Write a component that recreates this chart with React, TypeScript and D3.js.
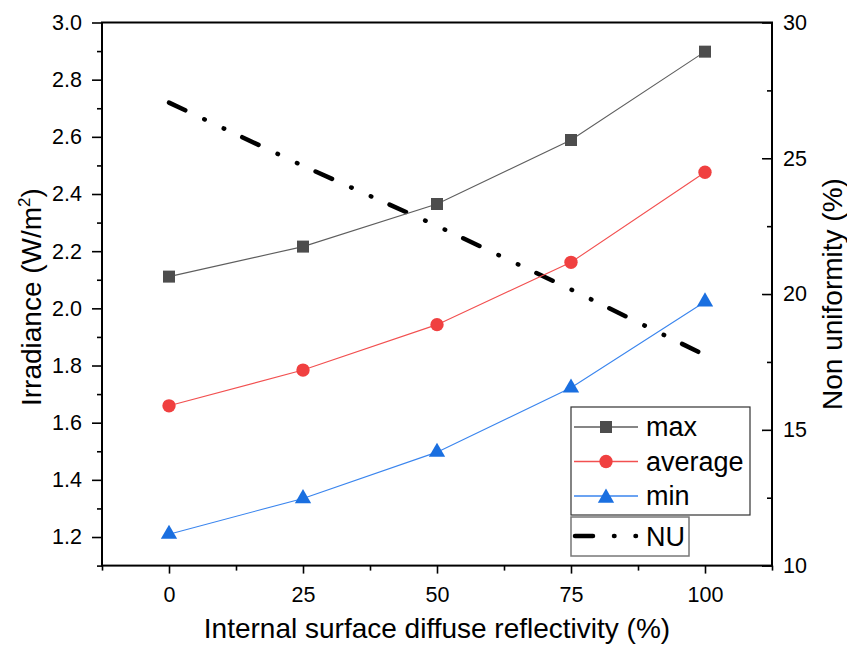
import React, { useRef, useEffect } from 'react';
import * as d3 from 'd3';

const reflectivity = [0, 25, 50, 75, 100];
const maxIrr = [2.111, 2.216, 2.365, 2.589, 2.898];
const avgIrr = [1.659, 1.784, 1.943, 2.161, 2.476];
const minIrr = [1.21, 1.335, 1.497, 1.722, 2.023];
const nonUniformity = [27.05, 24.72, 22.51, 20.17, 17.75];

const xTicks = [0, 25, 50, 75, 100];
const xMinor = [-12.5, 12.5, 37.5, 62.5, 87.5, 112.5];
const leftTicks = [1.2, 1.4, 1.6, 1.8, 2.0, 2.2, 2.4, 2.6, 2.8, 3.0];
const leftMinor = [1.1, 1.3, 1.5, 1.7, 1.9, 2.1, 2.3, 2.5, 2.7, 2.9];
const rightTicks = [10, 15, 20, 25, 30];
const rightMinor = [12.5, 17.5, 22.5, 27.5];

const W = 847;
const H = 650;
const M = { top: 22.5, right: 75, bottom: 84.4, left: 102 };
const FONT = '"Liberation Sans", Arial, sans-serif';
const NU_DASH = '18 21 0.5 21 0.5 20';

const series = [
  { name: 'max', values: maxIrr, line: '#5e5e5e', fill: '#4d4d4d', shape: 'square' },
  { name: 'average', values: avgIrr, line: '#f25050', fill: '#f04040', shape: 'circle' },
  { name: 'min', values: minIrr, line: '#3a85ee', fill: '#1a6fe0', shape: 'triangle' },
];

const symbolFor = (shape) => {
  if (shape === 'square') return d3.symbol(d3.symbolSquare, 144)();
  if (shape === 'circle') return d3.symbol(d3.symbolCircle, 140)();
  return d3.symbol(d3.symbolTriangle, 115)();
};

const App = () => {
  const svgRef = useRef(null);

  useEffect(() => {
    const svg = d3.select(svgRef.current);
    svg.selectAll('*').remove();

    const iw = W - M.left - M.right;
    const ih = H - M.top - M.bottom;

    const x = d3.scaleLinear().domain([-12.5, 112.5]).range([0, iw]);
    const yL = d3.scaleLinear().domain([1.1, 3.0]).range([ih, 0]);
    const yR = d3.scaleLinear().domain([10, 30]).range([ih, 0]);

    const g = svg.append('g').attr('transform', `translate(${M.left},${M.top})`);

    const styleAxis = (sel) => {
      sel.select('.domain').remove();
      sel.selectAll('line').attr('stroke', '#000').attr('stroke-width', 1.6);
      sel.selectAll('text').attr('font-family', FONT).attr('font-size', 21.5).attr('fill', '#000');
    };

    // bottom
    g.append('g').attr('transform', `translate(0,${ih})`)
      .call(d3.axisBottom(x).tickValues(xMinor).tickSize(5).tickFormat(() => '')).call(styleAxis);
    g.append('g').attr('transform', `translate(0,${ih})`)
      .call(d3.axisBottom(x).tickValues(xTicks).tickSize(8).tickPadding(13).tickFormat(d3.format('d'))).call(styleAxis);

    // left
    g.append('g').call(d3.axisLeft(yL).tickValues(leftMinor).tickSize(5).tickFormat(() => '')).call(styleAxis);
    g.append('g').call(d3.axisLeft(yL).tickValues(leftTicks).tickSize(10).tickPadding(10).tickFormat(d3.format('.1f'))).call(styleAxis);

    // right (ticks inward)
    g.append('g').attr('transform', `translate(${iw},0)`)
      .call(d3.axisRight(yR).tickValues(rightMinor).tickSize(-5).tickFormat(() => '')).call(styleAxis);
    g.append('g').attr('transform', `translate(${iw},0)`)
      .call(d3.axisRight(yR).tickValues(rightTicks).tickSize(-10).tickPadding(11).tickFormat(d3.format('d'))).call(styleAxis);

    g.append('rect').attr('width', iw).attr('height', ih)
      .attr('fill', 'none').attr('stroke', '#000').attr('stroke-width', 2);

    // NU line
    const nuLine = d3.line().x((d, i) => x(reflectivity[i])).y((d) => yR(d));
    g.append('path').datum(nonUniformity).attr('d', nuLine)
      .attr('fill', 'none').attr('stroke', '#000').attr('stroke-width', 4.5)
      .attr('stroke-linecap', 'round').attr('stroke-dasharray', NU_DASH);

    // irradiance series
    const irrLine = d3.line().x((d, i) => x(reflectivity[i])).y((d) => yL(d));
    series.forEach((s) => {
      g.append('path').datum(s.values).attr('d', irrLine)
        .attr('fill', 'none').attr('stroke', s.line).attr('stroke-width', 1.1);
      g.selectAll(null).data(s.values).join('path')
        .attr('d', symbolFor(s.shape))
        .attr('transform', (d, i) => `translate(${x(reflectivity[i])},${yL(d)})`)
        .attr('fill', s.fill);
    });

    // legend 1
    const lg = svg.append('g').attr('transform', 'translate(571,407)');
    lg.append('rect').attr('width', 179).attr('height', 108)
      .attr('fill', '#fff').attr('stroke', '#333').attr('stroke-width', 1.2);
    series.forEach((s, i) => {
      const cy = 20 + i * 34.5;
      lg.append('line').attr('x1', 3).attr('x2', 67).attr('y1', cy).attr('y2', cy)
        .attr('stroke', s.line).attr('stroke-width', 1.3);
      lg.append('path').attr('d', symbolFor(s.shape))
        .attr('transform', `translate(35,${s.shape === 'triangle' ? cy + 2 : cy})`).attr('fill', s.fill);
      lg.append('text').attr('x', 75).attr('y', cy + 9).text(s.name)
        .attr('font-family', FONT).attr('font-size', 27).attr('fill', '#000');
    });

    // legend 2
    const lg2 = svg.append('g').attr('transform', 'translate(571,517)');
    lg2.append('rect').attr('width', 118).attr('height', 39)
      .attr('fill', '#fff').attr('stroke', '#777').attr('stroke-width', 1.5);
    lg2.append('line').attr('x1', 4).attr('x2', 66).attr('y1', 19).attr('y2', 19)
      .attr('stroke', '#000').attr('stroke-width', 4.5).attr('stroke-linecap', 'round')
      .attr('stroke-dasharray', NU_DASH);
    lg2.append('text').attr('x', 75).attr('y', 28.5).text('NU')
      .attr('font-family', FONT).attr('font-size', 27).attr('fill', '#000');

    // axis titles
    svg.append('text').attr('x', M.left + iw / 2).attr('y', 638)
      .attr('text-anchor', 'middle').attr('font-family', FONT).attr('font-size', 28)
      .text('Internal surface diffuse reflectivity (%)');

    const yt = svg.append('text').attr('transform', `translate(41,${M.top + ih / 2 + 3}) rotate(-90)`)
      .attr('text-anchor', 'middle').attr('font-family', FONT).attr('font-size', 28);
    yt.append('tspan').text('Irradiance (W/m');
    yt.append('tspan').attr('font-size', 17).attr('dy', -11).text('2');
    yt.append('tspan').attr('dy', 11).text(')');

    svg.append('text').attr('transform', `translate(842,${M.top + ih / 2}) rotate(-90)`)
      .attr('text-anchor', 'middle').attr('font-family', FONT).attr('font-size', 28)
      .text('Non uniformity (%)');
  }, []);

  return (
    <svg ref={svgRef} width={W} height={H}
      style={{ position: 'absolute', left: 0, top: 0, background: '#fff' }} />
  );
};

export default App;
